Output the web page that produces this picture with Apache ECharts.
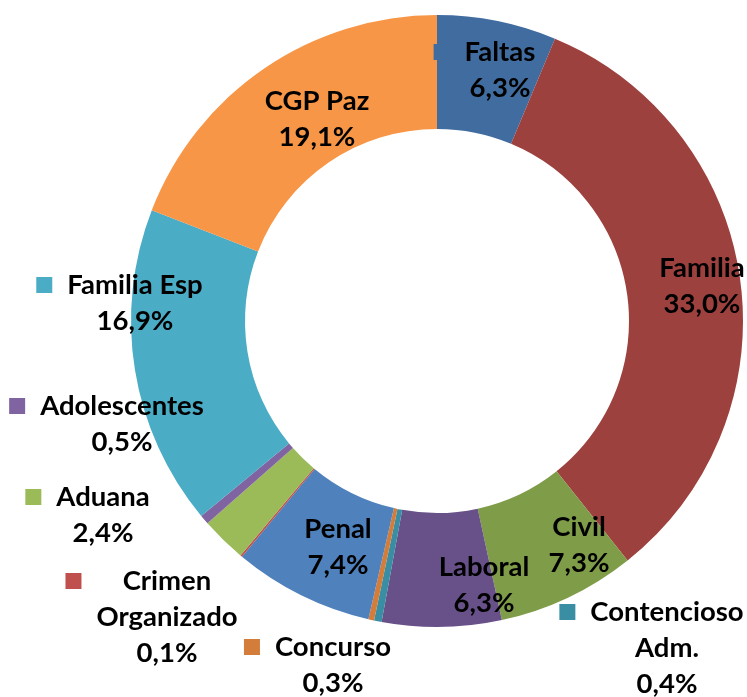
<!DOCTYPE html>
<html>
<head>
<meta charset="utf-8">
<script src="https://cdn.jsdelivr.net/npm/echarts@6/dist/echarts.min.js"></script>
<style>
html,body{margin:0;padding:0;background:#fff;}
#chart{width:747px;height:697px;}
</style>
</head>
<body>
<div id="chart"></div>
<script>
// ---- data ----
var categories = ['Faltas','Familia','Civil','Laboral','Contencioso Adm.','Concurso','Penal','Crimen Organizado','Aduana','Adolescentes','Familia Esp','CGP Paz'];
var values = [6.3, 33.0, 7.3, 6.3, 0.4, 0.3, 7.4, 0.1, 2.4, 0.5, 16.9, 19.1];
var displayNames = ['Faltas','Familia','Civil','Laboral','Contencioso\nAdm.','Concurso','Penal','Crimen\nOrganizado','Aduana','Adolescentes','Familia Esp','CGP Paz'];
var showKey = [true,false,false,false,true,true,false,true,true,true,true,false];

// ---- styles / layout ----
var colors = ['#406CA0','#9D413E','#7F9C49','#685088','#3A8EA4','#D47C39','#4F81BD','#C0504D','#9BBB59','#8064A2','#4BACC6','#F79646'];
var labelPos = [[500,70],[702,286],[579,545],[484,585],[667,648],[333,665],[338,547],[167,617],[103,515],[122,424],[135,303],[317,119]];
var FONT_FAMILY = 'Lato';
var FONT_SIZE = 27.5;
var LINE_H = 36;

var ctx = document.createElement('canvas').getContext('2d');
ctx.font = 'bold ' + FONT_SIZE + 'px ' + FONT_FAMILY;
function tw(s){ return ctx.measureText(s).width; }

function pct(v){ return v.toFixed(1).replace('.', ',') + '%'; }

var dataItems = categories.map(function(name, i){
  var lines = displayNames[i].split('\n');
  var allLines = lines.concat([pct(values[i])]);
  var maxW = Math.max.apply(null, allLines.map(tw));
  var rich = {
    t: {fontFamily: FONT_FAMILY, fontWeight: 'bold', fontSize: FONT_SIZE, lineHeight: LINE_H, color: '#000'}
  };
  var out = [];
  lines.forEach(function(l, li){
    if (li === 0 && showKey[i]) {
      var nw = tw(l);
      rich.k = {width: 16, height: 16, backgroundColor: colors[i], verticalAlign: 'middle', lineHeight: LINE_H};
      rich.g1 = {width: (maxW - nw)/2 + 15, lineHeight: LINE_H};
      rich.g2 = {width: (maxW - nw)/2 + 31, lineHeight: LINE_H};
      out.push('{k|}{g1|}{t|' + l + '}{g2|}');
    } else {
      out.push('{t|' + l + '}');
    }
  });
  out.push('{t|' + pct(values[i]) + '}');
  var text = out.join('\n');
  return {
    name: name,
    value: values[i],
    itemStyle: {color: colors[i]},
    label: {formatter: text, rich: rich}
  };
});

var chart = echarts.init(document.getElementById('chart'), null, {renderer: 'canvas'});
chart.setOption({
  animation: false,
  backgroundColor: '#fff',
  series: [{
    type: 'pie',
    center: [437, 321],
    radius: [192, 306],
    startAngle: 90,
    clockwise: true,
    avoidLabelOverlap: false,
    minAngle: 0,
    itemStyle: {borderWidth: 0},
    label: {
      show: true,
      position: 'inside',
      align: 'center',
      color: '#000'
    },
    labelLine: {show: false},
    labelLayout: function(params){
      var p = labelPos[params.dataIndex];
      return {x: p[0], y: p[1], align: 'center', verticalAlign: 'middle', hideOverlap: false};
    },
    emphasis: {disabled: true},
    data: dataItems
  }]
});
</script>
</body>
</html>
